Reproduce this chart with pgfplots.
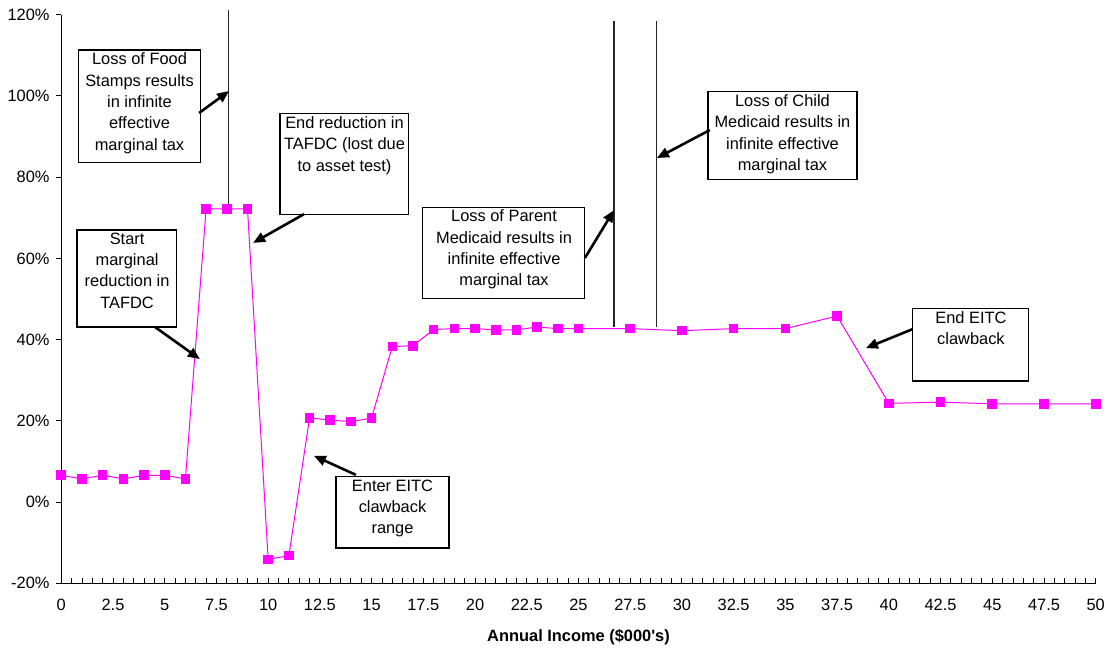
\documentclass[border=0pt]{standalone}
\usepackage{fontspec}
\setmainfont{Liberation Sans}
\usepackage{pgfplots}
\pgfplotsset{compat=1.18}
\usetikzlibrary{arrows.meta}
\definecolor{mag}{RGB}{255,0,255}
\begin{document}
\begin{tikzpicture}[
  box/.style={draw=black, line width=1.1pt, fill=white},
  txt/.style={align=center, font=\fontsize{16.4}{21.4}\selectfont, inner ysep=2.5pt, inner xsep=0pt, anchor=north},
  arr/.style={-{Triangle[length=12pt,width=10pt]}, line width=2.6pt, black}
]
\useasboundingbox (-61.3pt,-67.7pt) rectangle (1050.7pt,583.3pt);
\begin{axis}[
  at={(0,0)}, anchor=south west,
  scale only axis, width=1034.4pt, height=568.6pt,
  xmin=0, xmax=50, ymin=-20, ymax=120,
  axis x line*=bottom, axis y line*=left,
  clip=false,
  xtick={0,2.5,5,7.5,10,12.5,15,17.5,20,22.5,25,27.5,30,32.5,35,37.5,40,42.5,45,47.5,50},
  xticklabels={0,2.5,5,7.5,10,12.5,15,17.5,20,22.5,25,27.5,30,32.5,35,37.5,40,42.5,45,47.5,50},
  minor x tick num=4,
  ytick={-20,0,20,40,60,80,100,120},
  yticklabels={-20\%,0\%,20\%,40\%,60\%,80\%,100\%,120\%},
  xtick align=inside, ytick align=outside,
  major tick length=5pt, minor tick length=5pt,
  tick style={black, line width=0.9pt},
  ticklabel style={font=\fontsize{16.4}{19}\selectfont},
  xticklabel shift=12.4pt, yticklabel shift=3.3pt,
  xlabel={Annual Income (\$000\textquotesingle s)},
  xlabel style={font=\bfseries\fontsize{16.4}{19}\selectfont, at={(axis description cs:0.5,0)}, anchor=center, yshift=-53.4pt},
  axis line style={black, line width=0.9pt},
]
\addplot[mag, line width=1pt, mark=square*, mark size=4.3pt, mark options={solid, fill=mag}] coordinates {
(0,6.6)(1,5.7)(2,6.6)(3,5.7)(4,6.6)(5,6.6)(6,5.7)(7,72.2)(8,72.2)(9,72.2)(10,-14.1)(11,-13.2)
(12,20.7)(13,20.2)(14,19.8)(15,20.7)(16,38.3)(17,38.5)(18,42.5)(19,42.7)(20,42.7)(21,42.4)(22,42.4)
(23,43.1)(24,42.7)(25,42.7)(27.5,42.7)(30,42.2)(32.5,42.7)(35,42.7)(37.5,45.8)(40,24.3)(42.5,24.6)
(45,24.2)(47.5,24.2)(50,24.2)};
\addplot[black!85, line width=1.2pt] coordinates {(8.1,72.2) (8.1,121.2)};
\addplot[black!85, line width=1.2pt] coordinates {(26.72,43.2) (26.72,118.5)};
\addplot[black!85, line width=1.2pt] coordinates {(28.78,43.2) (28.78,118.5)};

\draw[box] (axis cs:0.81,111.3) rectangle (axis cs:6.75,83.5);
\node[txt] at (axis cs:3.78,111.3) {Loss of Food\\Stamps results\\in infinite\\effective\\marginal tax};
\draw[arr] (axis cs:6.66,95.8) -- (axis cs:8.11,101.2);

\draw[box] (axis cs:10.57,95.6) rectangle (axis cs:16.8,70.9);
\node[txt] at (axis cs:13.69,95.6) {End reduction in\\TAFDC (lost due\\to asset test)};
\draw[arr] (axis cs:11.73,70.9) -- (axis cs:9.27,63.8);

\draw[box] (axis cs:0.76,67.0) rectangle (axis cs:5.59,43.1);
\node[txt] at (axis cs:3.18,67.0) {Start\\marginal\\reduction in\\TAFDC};
\draw[arr] (axis cs:4.53,43.1) -- (axis cs:6.70,35.2);

\draw[box] (axis cs:13.28,6.2) rectangle (axis cs:18.74,-11.3);
\node[txt] at (axis cs:16.01,6.2) {Enter EITC\\clawback\\range};
\draw[arr] (axis cs:14.24,6.7) -- (axis cs:12.21,11.4);

\draw[box] (axis cs:17.48,72.6) rectangle (axis cs:25.31,50.2);
\node[txt] at (axis cs:21.4,72.6) {Loss of Parent\\Medicaid results in\\infinite effective\\marginal tax};
\draw[arr] (axis cs:25.31,60.1) -- (axis cs:26.72,71.9);

\draw[box] (axis cs:31.26,101.0) rectangle (axis cs:38.46,79.5);
\node[txt] at (axis cs:34.86,101.0) {Loss of Child\\Medicaid results in\\infinite effective\\marginal tax};
\draw[arr] (axis cs:31.35,91.6) -- (axis cs:28.79,84.7);

\draw[box] (axis cs:41.16,47.6) rectangle (axis cs:46.77,29.8);
\node[txt] at (axis cs:43.97,47.6) {End EITC\\clawback};
\draw[arr] (axis cs:41.16,42.6) -- (axis cs:38.89,37.9);
\end{axis}
\end{tikzpicture}
\end{document}
